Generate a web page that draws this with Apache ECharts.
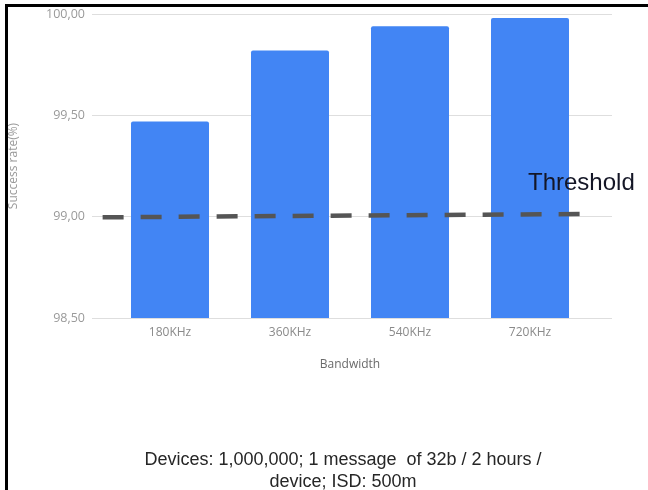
<!DOCTYPE html>
<html>
<head>
<meta charset="utf-8">
<script src="https://cdn.jsdelivr.net/npm/echarts@6/dist/echarts.min.js"></script>
<style>
  html, body { margin: 0; padding: 0; background: #fff; }
  #chart { width: 648px; height: 490px; }
</style>
</head>
<body>
<div id="chart"></div>
<script>
// Success rate per bandwidth option
const categories = ['180KHz', '360KHz', '540KHz', '720KHz'];
const successRate = [99.47, 99.82, 99.94, 99.98];
const yTicks = [98.5, 99.0, 99.5, 100.0];
// Hand-drawn threshold line (start / end level, category-index span)
const thresholdLevels = [98.997, 99.013];
const thresholdSpan = [-0.59, 3.46];

const chart = echarts.init(document.getElementById('chart'));

const fmt = v => v.toFixed(2).replace('.', ',');

const gridTop = 14, gridBottom = 172;

chart.setOption({
  animation: false,
  backgroundColor: '#ffffff',
  grid: [
    { left: 110, right: 58, top: gridTop, bottom: gridBottom },
    { left: 89, right: 36, top: gridTop, bottom: gridBottom }
  ],
  xAxis: [
    {
      type: 'category', gridIndex: 0, data: categories,
      axisLine: { show: false }, axisTick: { show: false },
      axisLabel: { color: '#8a8a8a', fontSize: 12, margin: 9, fontFamily: 'Open Sans' },
      name: 'Bandwidth', nameLocation: 'middle', nameGap: 41,
      nameTextStyle: { color: '#6a6a6a', fontSize: 12, fontFamily: 'Open Sans' }
    },
    {
      type: 'value', gridIndex: 1, min: -0.679, max: 3.679, show: false
    }
  ],
  yAxis: [
    {
      type: 'value', gridIndex: 0, min: yTicks[0], max: yTicks[yTicks.length - 1],
      interval: 0.5, show: false
    },
    {
      type: 'value', gridIndex: 1, min: yTicks[0], max: yTicks[yTicks.length - 1],
      interval: 0.5,
      axisLine: { show: false }, axisTick: { show: false },
      axisLabel: { color: '#9a9a9a', fontSize: 12.5, margin: 7, formatter: fmt, fontFamily: 'Open Sans' },
      splitLine: { lineStyle: { color: '#dedede', width: 1 } },
      name: 'Success rate(%)', nameLocation: 'middle', nameGap: 72, nameRotate: 90,
      nameTextStyle: { color: '#9a9a9a', fontSize: 12, fontFamily: 'Open Sans' }
    }
  ],
  series: [
    {
      type: 'bar', xAxisIndex: 0, yAxisIndex: 0,
      data: successRate, barWidth: 78,
      itemStyle: { color: '#4285f4', borderRadius: [2, 2, 0, 0] },
      z: 2
    },
    {
      type: 'line', xAxisIndex: 1, yAxisIndex: 1,
      data: [[thresholdSpan[0], thresholdLevels[0]], [thresholdSpan[1], thresholdLevels[1]]],
      symbol: 'none',
      lineStyle: { color: '#555555', width: 4.5, type: [21, 17], cap: 'butt' },
      z: 5
    }
  ],
  graphic: [
    { type: 'rect', shape: { x: 5, y: 4, width: 643, height: 3 }, style: { fill: '#000' } },
    { type: 'rect', shape: { x: 5, y: 4, width: 3, height: 486 }, style: { fill: '#000' } },
    {
      type: 'text', x: 528, y: 171, z: 10,
      style: { text: 'Threshold', fill: '#141626', font: '24px "Liberation Sans", Arial, sans-serif', verticalAlign: 'top' }
    },
    {
      type: 'text', x: 343, y: 449, z: 10,
      style: {
        text: 'Devices: 1,000,000; 1 message  of 32b / 2 hours /\ndevice; ISD: 500m',
        fill: '#262626', font: '18px "Liberation Sans", Arial, sans-serif',
        align: 'center', verticalAlign: 'top', lineHeight: 22
      }
    }
  ]
});
</script>
</body>
</html>
